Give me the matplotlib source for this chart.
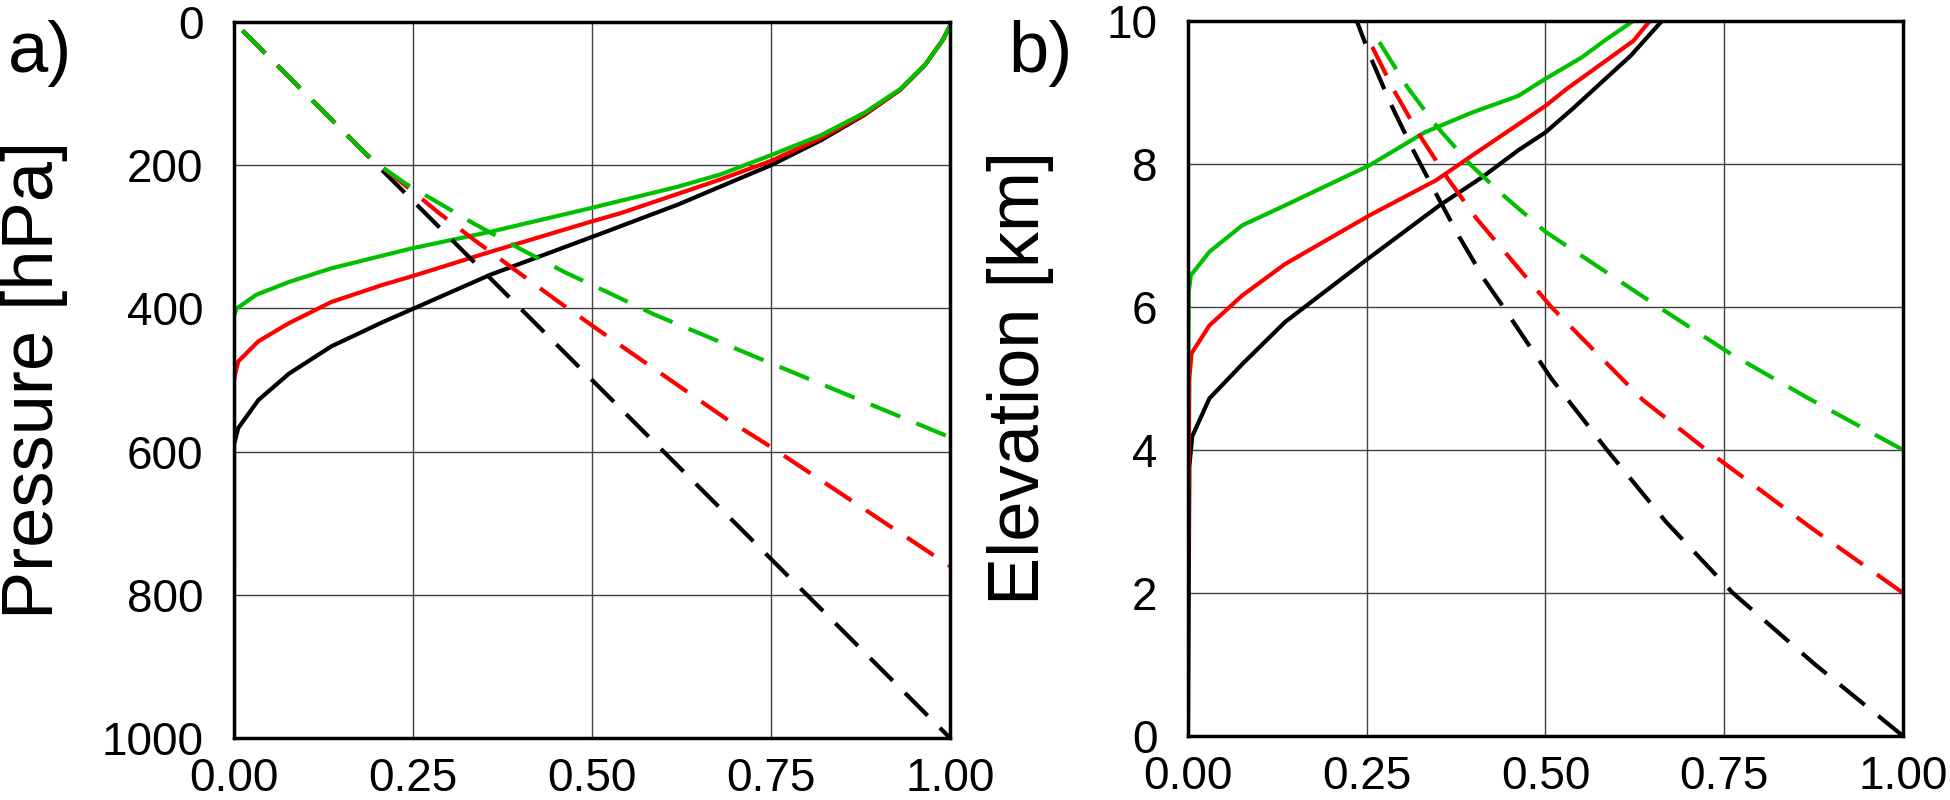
import matplotlib
matplotlib.use('Agg')
import matplotlib.pyplot as plt

# panel a: pressure [hPa] vs fraction
a_black_solid_x = [0, 0, 0.006, 0.034, 0.077, 0.136, 0.208, 0.249, 0.358, 0.498, 0.620, 0.679, 0.75, 0.82, 0.88, 0.93, 0.965, 0.99, 1.0]
a_black_solid_p = [1000, 590, 567, 528, 491, 453, 419, 401, 353, 301, 255, 230, 200, 165, 130, 95, 60, 25, 5]
a_red_solid_x = [0, 0, 0.002, 0.006, 0.034, 0.076, 0.136, 0.208, 0.249, 0.358, 0.498, 0.540, 0.620, 0.679, 0.75, 0.82, 0.88, 0.93, 0.965, 0.99, 1.0]
a_red_solid_p = [760, 500, 490, 474, 446, 421, 391, 367, 355, 321, 279, 267, 240, 220, 194, 162, 129, 95, 60, 25, 5]
a_green_solid_x = [0, 0, 0.004, 0.031, 0.077, 0.136, 0.249, 0.358, 0.498, 0.620, 0.679, 0.75, 0.82, 0.88, 0.93, 0.965, 0.99, 1.0]
a_green_solid_p = [580, 410, 400, 381, 363, 344, 316, 293, 260, 230, 213, 186, 158, 127, 94, 60, 25, 5]

a_black_dash_x = [0.012, 0.2, 0.4, 0.6, 0.8, 1.0]
a_black_dash_p = [12, 200, 400, 600, 800, 1000]
a_red_dash_x = [0.012, 0.1, 0.19, 0.248, 0.284, 0.339, 0.399, 0.455, 0.513, 0.569, 0.628, 0.687, 0.746, 1.0]
a_red_dash_p = [12, 100, 190, 235, 265, 307, 351, 392, 433, 472, 513, 554, 591, 760]
a_green_dash_x = [0.012, 0.1, 0.18, 0.203, 0.24, 0.295, 0.334, 0.40, 0.461, 0.525, 0.588, 0.653, 0.717, 1.0]
a_green_dash_p = [12, 100, 180, 200, 226, 258, 281, 317, 349, 379, 409, 436, 463, 580]

# panel b: elevation [km] vs fraction
b_black_solid_x = [0, 0.002, 0.006, 0.030, 0.077, 0.136, 0.246, 0.352, 0.411, 0.462, 0.5, 0.538, 0.619, 0.663]
b_black_solid_z = [0, 3.77, 4.19, 4.72, 5.21, 5.79, 6.63, 7.42, 7.81, 8.19, 8.44, 8.77, 9.51, 10]
b_red_solid_x = [0, 0.002, 0.005, 0.030, 0.076, 0.136, 0.254, 0.347, 0.398, 0.466, 0.5, 0.530, 0.623, 0.646]
b_red_solid_z = [2, 5.0, 5.35, 5.74, 6.16, 6.60, 7.28, 7.77, 8.12, 8.58, 8.81, 9.05, 9.72, 10]
b_green_solid_x = [0, 0.001, 0.004, 0.030, 0.076, 0.136, 0.254, 0.331, 0.398, 0.462, 0.5, 0.551, 0.585, 0.623]
b_green_solid_z = [4, 6.2, 6.44, 6.77, 7.14, 7.42, 7.98, 8.44, 8.72, 8.95, 9.19, 9.49, 9.74, 10]

b_black_dash_x = [1.0, 0.877, 0.762, 0.668, 0.586, 0.508, 0.441, 0.416, 0.380, 0.346, 0.314, 0.283, 0.255, 0.236]
b_black_dash_z = [0, 1, 2, 3, 4, 5, 6, 6.36, 6.97, 7.60, 8.21, 8.85, 9.50, 10]
b_red_dash_x = [1.0, 0.873, 0.725, 0.636, 0.508, 0.404, 0.363, 0.324, 0.289, 0.257, 0.246]
b_red_dash_z = [2, 2.9, 4, 4.7, 6.0, 7.23, 7.80, 8.40, 9.01, 9.65, 9.85]
b_green_dash_x = [1.0, 0.868, 0.758, 0.655, 0.5, 0.441, 0.396, 0.349, 0.307, 0.269, 0.257]
b_green_dash_z = [4, 4.72, 5.35, 6.02, 7.05, 7.56, 7.98, 8.51, 9.07, 9.68, 9.87]

x_ticks = [0, 0.25, 0.5, 0.75, 1.0]
x_labels = ['0.00', '0.25', '0.50', '0.75', '1.00']
p_ticks = [0, 200, 400, 600, 800, 1000]
z_ticks = [0, 2, 4, 6, 8, 10]

green = '#00c000'
red = '#ff0000'
lw = 3.0
dash = (0, (23, 12.5))

plt.rcParams['font.family'] = ['Liberation Sans', 'DejaVu Sans']
plt.rcParams['lines.scale_dashes'] = False

fig = plt.figure(figsize=(19.5, 8), dpi=100)
ax_a = fig.add_axes([0.12, 0.0775, 0.3672, 0.895])
ax_b = fig.add_axes([0.6092, 0.08, 0.3667, 0.894])

ax_a.plot(a_black_solid_x, a_black_solid_p, color='black', lw=lw)
ax_a.plot(a_red_solid_x, a_red_solid_p, color=red, lw=lw)
ax_a.plot(a_green_solid_x, a_green_solid_p, color=green, lw=lw)
ax_a.plot(a_black_dash_x, a_black_dash_p, color='black', lw=lw, linestyle=dash)
ax_a.plot(a_red_dash_x, a_red_dash_p, color=red, lw=lw, linestyle=dash)
ax_a.plot(a_green_dash_x, a_green_dash_p, color=green, lw=lw, linestyle=dash)

ax_b.plot(b_black_solid_x, b_black_solid_z, color='black', lw=lw)
ax_b.plot(b_red_solid_x, b_red_solid_z, color=red, lw=lw)
ax_b.plot(b_green_solid_x, b_green_solid_z, color=green, lw=lw)
ax_b.plot(b_black_dash_x, b_black_dash_z, color='black', lw=lw, linestyle=dash)
ax_b.plot(b_red_dash_x, b_red_dash_z, color=red, lw=lw, linestyle=dash)
ax_b.plot(b_green_dash_x, b_green_dash_z, color=green, lw=lw, linestyle=dash)

ax_a.set_ylim(1000, 0)
ax_a.set_yticks(p_ticks)
ax_a.set_ylabel('Pressure [hPa]', fontsize=52, labelpad=24)
ax_b.set_ylim(0, 10)
ax_b.set_yticks(z_ticks)
ax_b.set_ylabel('Elevation [km]', fontsize=52, labelpad=38)

for ax in (ax_a, ax_b):
    ax.set_xlim(0, 1)
    ax.set_xticks(x_ticks)
    ax.set_xticklabels(x_labels)
    ax.tick_params(length=0, labelsize=33, pad=14)
    ax.tick_params(axis='y', pad=22)
    ax.grid(True, color='0.25', lw=1.0)
    ax.set_axisbelow(True)
    for s in ax.spines.values():
        s.set_linewidth(2.5)

fig.text(0.004, 0.975, 'a)', fontsize=52, va='top', ha='left')
fig.text(0.517, 0.975, 'b)', fontsize=52, va='top', ha='left')

fig.savefig('out.png', dpi=100)
